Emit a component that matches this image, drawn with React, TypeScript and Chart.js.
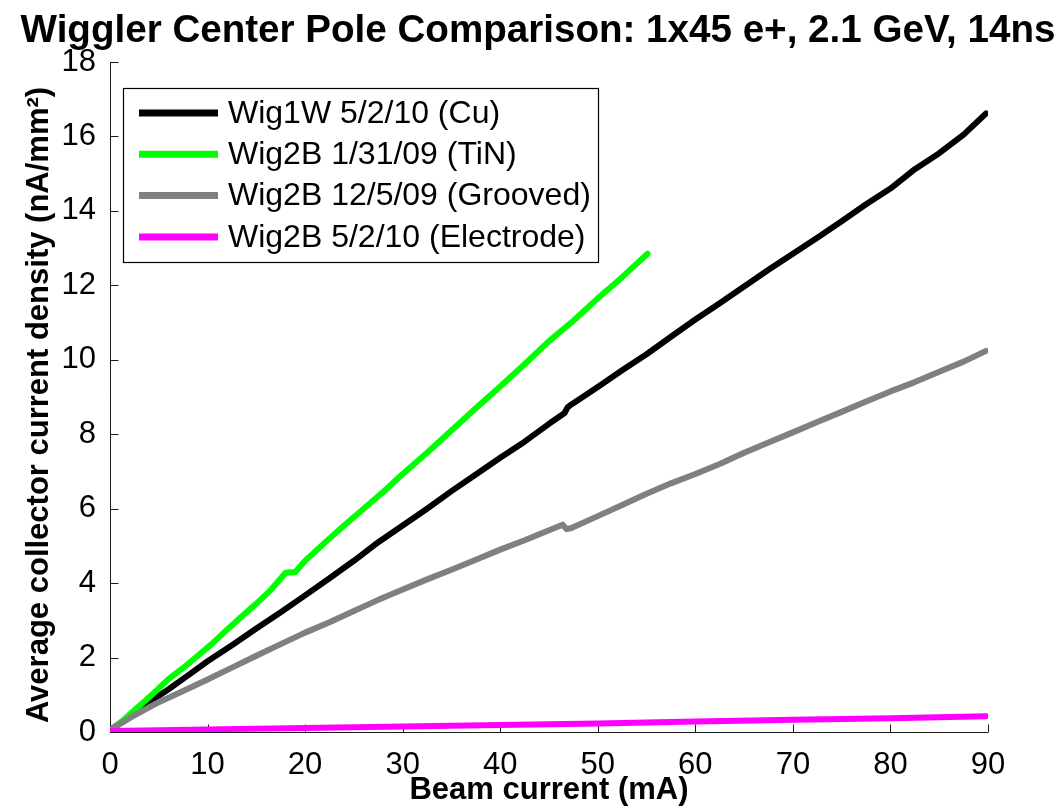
import { useEffect, useRef } from "react";
import { Chart, registerables } from "chart.js";

Chart.register(...registerables);

// Wig1W 5/2/10 (Cu)
const cuCurrent = [0, 2, 4, 6, 8, 10, 12.5, 15, 17.5, 20, 22.5, 25, 27.5, 30, 32.5, 35, 37.5, 40, 42.5, 45, 46.6, 46.9, 47.3, 50, 52.5, 55, 57.5, 60, 62.5, 65, 67.5, 70, 72.5, 75, 77.5, 80, 82.5, 85, 87.5, 89.8];
const cuDensity = [0.05, 0.42, 0.8, 1.15, 1.52, 1.9, 2.33, 2.78, 3.22, 3.67, 4.13, 4.6, 5.1, 5.55, 6.0, 6.47, 6.92, 7.37, 7.8, 8.28, 8.57, 8.72, 8.8, 9.27, 9.72, 10.15, 10.62, 11.08, 11.52, 11.97, 12.42, 12.85, 13.28, 13.72, 14.18, 14.6, 15.12, 15.55, 16.05, 16.62];

// Wig2B 1/31/09 (TiN)
const tinCurrent = [0, 1.5, 3, 4.5, 6, 7.5, 9, 10.5, 12, 13.5, 15, 16.5, 18, 19, 20, 22, 24, 26, 28, 30, 32.5, 35, 37.5, 40, 42.5, 45, 47.5, 50, 52.5, 55.1];
const tinDensity = [0.02, 0.35, 0.7, 1.05, 1.42, 1.72, 2.05, 2.38, 2.75, 3.1, 3.45, 3.82, 4.28, 4.3, 4.6, 5.08, 5.55, 6.0, 6.45, 6.93, 7.5, 8.1, 8.7, 9.28, 9.88, 10.5, 11.05, 11.65, 12.22, 12.85];

// Wig2B 12/5/09 (Grooved)
const groovedCurrent = [0, 2.5, 5, 7.5, 10, 12.5, 15, 17.5, 20, 22.5, 25, 27.5, 30, 32.5, 35, 37.5, 40, 42.5, 45, 46.4, 46.8, 47.3, 50, 52.5, 55, 57.5, 60, 62.5, 65, 67.5, 70, 72.5, 75, 77.5, 80, 82.5, 85, 87.5, 89.8];
const groovedDensity = [0.05, 0.45, 0.8, 1.1, 1.41, 1.73, 2.05, 2.36, 2.67, 2.95, 3.25, 3.55, 3.83, 4.1, 4.36, 4.63, 4.9, 5.15, 5.42, 5.57, 5.45, 5.48, 5.8, 6.1, 6.4, 6.68, 6.93, 7.2, 7.5, 7.78, 8.05, 8.33, 8.6, 8.88, 9.15, 9.4, 9.68, 9.95, 10.24];

// Wig2B 5/2/10 (Electrode)
const electrodeCurrent = [0, 10, 20, 30, 40, 50, 60, 70, 80, 89.8];
const electrodeDensity = [0.03, 0.07, 0.11, 0.15, 0.19, 0.23, 0.28, 0.33, 0.37, 0.42];

const seriesLabels = [
  "Wig1W 5/2/10 (Cu)",
  "Wig2B 1/31/09 (TiN)",
  "Wig2B 12/5/09 (Grooved)",
  "Wig2B 5/2/10 (Electrode)",
];
const seriesColors = ["#000000", "#00ff00", "#808080", "#ff00ff"];

const xTicks = [0, 10, 20, 30, 40, 50, 60, 70, 80, 90];
const yTicks = [0, 2, 4, 6, 8, 10, 12, 14, 16, 18];

const chartTitle = "Wiggler Center Pole Comparison: 1x45 e+, 2.1 GeV, 14ns";
const xAxisTitle = "Beam current (mA)";
const yAxisTitle = "Average collector current density (nA/mm²)";

const FONT = '"Liberation Sans", Arial, Helvetica, sans-serif';

const pairs = (xs: number[], ys: number[]) => xs.map((x, i) => ({ x, y: ys[i] }));

// Left/bottom axis lines with inward tick marks
const axesPlugin = {
  id: "axesInward",
  beforeDatasetsDraw(chart: any) {
    const { ctx, chartArea: a, scales } = chart;
    const x = scales.x;
    const y = scales.y;
    ctx.save();
    ctx.strokeStyle = "#1a1a1a";
    ctx.lineWidth = 1;
    ctx.beginPath();
    const left = Math.round(a.left) + 0.5;
    const bottom = Math.round(a.bottom) + 0.5;
    ctx.moveTo(left, a.top);
    ctx.lineTo(left, bottom);
    ctx.lineTo(a.right, bottom);
    xTicks.forEach((v) => {
      const px = Math.round(x.getPixelForValue(v)) + 0.5;
      ctx.moveTo(px, bottom);
      ctx.lineTo(px, bottom - 8);
    });
    yTicks.forEach((v) => {
      const py = Math.round(y.getPixelForValue(v)) + 0.5;
      ctx.moveTo(left, py);
      ctx.lineTo(left + 8, py);
    });
    ctx.stroke();
    ctx.restore();
  },
};

// Chart title and rotated y-axis title
const titlesPlugin = {
  id: "titles",
  afterDraw(chart: any) {
    const { ctx } = chart;
    ctx.save();
    ctx.fillStyle = "#000";
    ctx.font = `bold 38.6px ${FONT}`;
    ctx.textAlign = "center";
    ctx.textBaseline = "alphabetic";
    ctx.fillText(chartTitle, 538, 42);

    ctx.translate(39, 405);
    ctx.rotate(-Math.PI / 2);
    ctx.font = `bold 31px ${FONT}`;
    ctx.textBaseline = "middle";
    ctx.fillText(yAxisTitle, 0, 0);
    ctx.restore();
  },
};

// Boxed legend in the upper-left of the plot area
const legendPlugin = {
  id: "boxLegend",
  afterDraw(chart: any) {
    const { ctx, chartArea: a } = chart;
    const boxX = a.left + 13;
    const boxY = a.top + 26;
    const boxW = 475;
    const boxH = 174;
    ctx.save();
    ctx.fillStyle = "#fff";
    ctx.fillRect(boxX, boxY, boxW, boxH);
    ctx.strokeStyle = "#000";
    ctx.lineWidth = 1.2;
    ctx.strokeRect(boxX + 0.5, boxY + 0.5, boxW, boxH);
    ctx.font = `32px ${FONT}`;
    ctx.textBaseline = "middle";
    ctx.textAlign = "left";
    chart.data.datasets.forEach((ds: any, i: number) => {
      const rowY = boxY + 25 + i * 41.3;
      ctx.strokeStyle = ds.borderColor;
      ctx.lineWidth = 7;
      ctx.lineCap = "butt";
      ctx.beginPath();
      ctx.moveTo(boxX + 16, rowY);
      ctx.lineTo(boxX + 95, rowY);
      ctx.stroke();
      ctx.fillStyle = "#000";
      ctx.fillText(ds.label, boxX + 105, rowY + 1);
    });
    ctx.restore();
  },
};

export default function App() {
  const canvasRef = useRef<HTMLCanvasElement | null>(null);

  useEffect(() => {
    document.body.style.margin = "0";
    const canvas = canvasRef.current;
    if (!canvas) return;

    const seriesData = [
      pairs(cuCurrent, cuDensity),
      pairs(tinCurrent, tinDensity),
      pairs(groovedCurrent, groovedDensity),
      pairs(electrodeCurrent, electrodeDensity),
    ];

    const chart = new Chart(canvas, {
      type: "line",
      data: {
        datasets: seriesData.map((d, i) => ({
          label: seriesLabels[i],
          data: d,
          borderColor: seriesColors[i],
          backgroundColor: seriesColors[i],
          borderWidth: 6,
          borderCapStyle: "round" as const,
          borderJoinStyle: "round" as const,
          pointRadius: 0,
          tension: 0,
          fill: false,
          order: seriesLabels.length - i,
        })),
      },
      options: {
        responsive: false,
        animation: false,
        layout: { padding: { top: 62, right: 72, left: 0, bottom: 0 } },
        plugins: {
          legend: { display: false },
          tooltip: { enabled: false },
          title: { display: false },
        },
        scales: {
          x: {
            type: "linear",
            min: 0,
            max: 90,
            grid: { display: false },
            border: { display: false },
            ticks: {
              stepSize: 10,
              padding: 7,
              color: "#000",
              maxRotation: 0,
              font: { family: FONT, size: 31 },
            },
            title: {
              display: true,
              text: xAxisTitle,
              color: "#000",
              font: { family: FONT, size: 31, weight: "bold" },
              padding: { top: 0, bottom: 2 },
            },
            afterFit: (scale: any) => {
              scale.height = 79;
            },
          },
          y: {
            type: "linear",
            min: 0,
            max: 18,
            grid: { display: false },
            border: { display: false },
            ticks: {
              stepSize: 2,
              padding: 6,
              color: "#000",
              font: { family: FONT, size: 31 },
            },
            title: { display: false },
            afterFit: (scale: any) => {
              scale.width = 110;
            },
          },
        },
      },
      plugins: [axesPlugin, titlesPlugin, legendPlugin],
    });

    return () => chart.destroy();
  }, []);

  return (
    <div style={{ width: 1060, height: 811, background: "#fff" }}>
      <canvas ref={canvasRef} width={1060} height={811} />
    </div>
  );
}
